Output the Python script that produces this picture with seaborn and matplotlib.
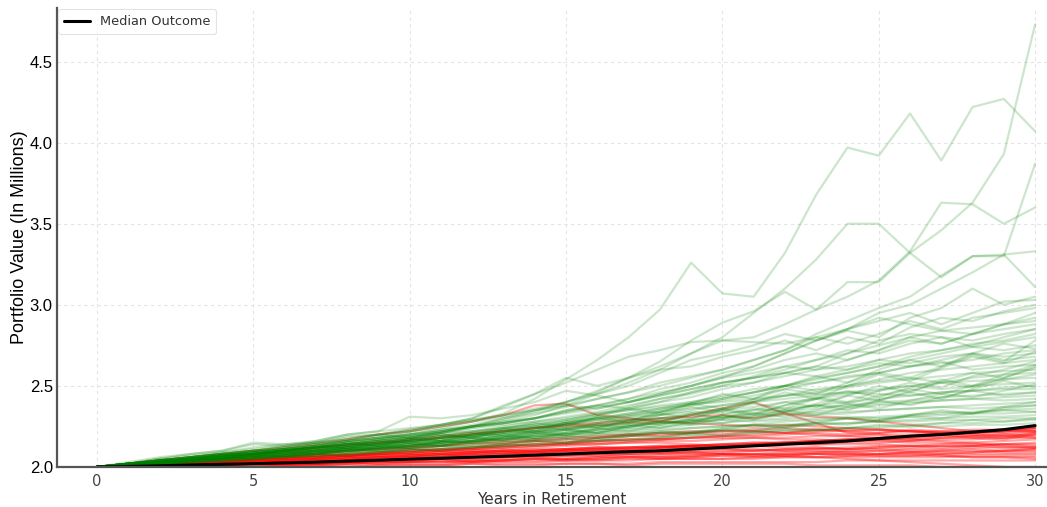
import numpy as np
import pandas as pd
import matplotlib
matplotlib.use("Agg")
import matplotlib.pyplot as plt
import seaborn as sns

years = list(range(31))

median_outcome = [2.00,2.003,2.007,2.012,2.016,2.02,2.025,2.03,2.036,2.042,2.048,2.054,2.06,2.066,2.073,
                  2.08,2.087,2.094,2.10,2.11,2.12,2.13,2.14,2.15,2.16,2.175,2.19,2.20,2.215,2.23,2.255]

green_paths = [
    [2.00,2.02,2.03,2.05,2.07,2.09,2.11,2.13,2.16,2.18,2.21,2.24,2.28,2.33,2.42,2.54,2.66,2.80,2.97,3.26,3.07,3.05,3.32,3.68,3.97,3.92,4.18,3.89,4.22,4.27,4.07],
    [2.00,2.01,2.03,2.05,2.06,2.08,2.10,2.12,2.14,2.16,2.18,2.21,2.25,2.29,2.34,2.40,2.46,2.55,2.65,2.78,2.89,2.96,3.08,2.97,3.14,3.14,3.32,3.46,3.63,3.93,4.73],
    [2.00,2.02,2.04,2.06,2.08,2.10,2.11,2.13,2.16,2.19,2.22,2.26,2.30,2.37,2.45,2.52,2.60,2.68,2.72,2.77,2.78,2.77,2.76,2.80,2.85,2.95,3.00,3.10,3.20,3.31,3.33],
    [2.00,2.01,2.03,2.05,2.06,2.08,2.10,2.12,2.14,2.16,2.18,2.21,2.25,2.30,2.35,2.40,2.47,2.55,2.62,2.70,2.80,2.95,3.10,3.28,3.50,3.50,3.32,3.17,3.30,3.30,3.87],
    [2.00,2.02,2.03,2.05,2.07,2.09,2.11,2.13,2.15,2.17,2.20,2.22,2.25,2.28,2.32,2.38,2.45,2.52,2.60,2.70,2.78,2.80,2.88,2.97,3.05,3.15,3.33,3.63,3.62,3.50,3.60],
    [2.00,2.02,2.04,2.06,2.08,2.09,2.11,2.14,2.16,2.18,2.20,2.23,2.26,2.30,2.33,2.37,2.42,2.46,2.50,2.55,2.60,2.66,2.72,2.82,2.90,2.98,3.05,3.18,3.30,3.31,3.11],
    [2.00,2.01,2.03,2.04,2.06,2.08,2.10,2.12,2.14,2.17,2.19,2.21,2.24,2.27,2.30,2.35,2.38,2.42,2.48,2.52,2.58,2.62,2.70,2.78,2.84,2.80,2.92,2.98,3.10,3.00,3.05],
    [2.00,2.02,2.04,2.06,2.08,2.10,2.13,2.15,2.18,2.20,2.23,2.26,2.29,2.32,2.36,2.40,2.45,2.50,2.58,2.66,2.70,2.75,2.82,2.78,2.85,2.90,2.95,2.88,2.95,3.02,3.03],
    [2.00,2.02,2.05,2.08,2.10,2.14,2.13,2.16,2.20,2.22,2.31,2.30,2.32,2.36,2.40,2.47,2.44,2.40,2.45,2.50,2.56,2.60,2.66,2.70,2.66,2.72,2.80,2.76,2.82,2.88,2.95],
    [2.00,2.03,2.06,2.08,2.10,2.15,2.14,2.15,2.19,2.20,2.18,2.22,2.25,2.27,2.30,2.35,2.38,2.36,2.40,2.46,2.52,2.55,2.58,2.62,2.60,2.66,2.70,2.72,2.75,2.80,2.85],
    [2.00,2.02,2.04,2.06,2.09,2.11,2.13,2.15,2.17,2.20,2.23,2.26,2.30,2.38,2.45,2.55,2.50,2.55,2.60,2.62,2.68,2.72,2.78,2.72,2.80,2.76,2.86,2.92,2.90,2.96,3.00],
    [2.00,2.02,2.03,2.05,2.07,2.08,2.10,2.12,2.14,2.15,2.17,2.19,2.22,2.24,2.27,2.29,2.33,2.36,2.40,2.43,2.48,2.52,2.58,2.62,2.70,2.75,2.80,2.84,2.82,2.88,2.92],
    [2.00,2.01,2.03,2.04,2.06,2.07,2.09,2.11,2.12,2.14,2.16,2.18,2.20,2.23,2.25,2.28,2.32,2.37,2.42,2.45,2.50,2.56,2.62,2.60,2.66,2.72,2.78,2.76,2.82,2.85,2.88],
    [2.00,2.02,2.04,2.05,2.07,2.09,2.11,2.13,2.16,2.18,2.20,2.23,2.25,2.28,2.30,2.34,2.37,2.40,2.44,2.48,2.52,2.55,2.60,2.66,2.72,2.70,2.76,2.80,2.78,2.82,2.85],
    [2.00,2.01,2.02,2.04,2.05,2.07,2.08,2.10,2.11,2.13,2.15,2.17,2.19,2.21,2.24,2.26,2.29,2.32,2.35,2.39,2.42,2.46,2.50,2.55,2.58,2.62,2.66,2.70,2.74,2.77,2.80],
    [2.00,2.02,2.04,2.06,2.08,2.10,2.12,2.14,2.16,2.18,2.20,2.22,2.25,2.27,2.30,2.33,2.36,2.40,2.45,2.50,2.55,2.58,2.62,2.66,2.70,2.78,2.82,2.80,2.74,2.72,2.75],
    [2.00,2.01,2.03,2.04,2.06,2.07,2.09,2.10,2.12,2.14,2.16,2.18,2.19,2.21,2.24,2.27,2.30,2.33,2.36,2.38,2.41,2.44,2.48,2.52,2.56,2.58,2.62,2.64,2.66,2.70,2.72],
    [2.00,2.02,2.03,2.05,2.07,2.09,2.11,2.12,2.14,2.16,2.18,2.21,2.24,2.26,2.28,2.31,2.34,2.38,2.42,2.46,2.50,2.52,2.56,2.60,2.62,2.66,2.64,2.68,2.70,2.68,2.70],
    [2.00,2.01,2.02,2.03,2.05,2.06,2.07,2.09,2.10,2.12,2.13,2.15,2.17,2.19,2.21,2.23,2.25,2.28,2.30,2.33,2.36,2.40,2.44,2.48,2.50,2.54,2.58,2.60,2.62,2.64,2.66],
    [2.00,2.02,2.04,2.05,2.07,2.08,2.10,2.12,2.13,2.15,2.17,2.19,2.21,2.24,2.26,2.29,2.32,2.35,2.38,2.40,2.43,2.46,2.50,2.52,2.55,2.58,2.62,2.65,2.60,2.62,2.63],
    [2.00,2.01,2.03,2.04,2.06,2.07,2.08,2.10,2.12,2.13,2.15,2.16,2.18,2.20,2.22,2.24,2.27,2.29,2.32,2.35,2.38,2.41,2.44,2.46,2.49,2.52,2.54,2.56,2.58,2.59,2.60],
    [2.00,2.02,2.03,2.05,2.06,2.08,2.10,2.11,2.13,2.14,2.16,2.18,2.20,2.22,2.25,2.27,2.30,2.33,2.36,2.40,2.44,2.48,2.50,2.47,2.50,2.53,2.55,2.52,2.55,2.57,2.58],
    [2.00,2.01,2.02,2.04,2.05,2.06,2.08,2.09,2.11,2.12,2.14,2.15,2.17,2.19,2.21,2.23,2.25,2.27,2.30,2.32,2.35,2.37,2.40,2.42,2.45,2.47,2.50,2.52,2.53,2.54,2.55],
    [2.00,2.02,2.04,2.06,2.08,2.10,2.11,2.13,2.15,2.17,2.19,2.21,2.22,2.24,2.26,2.28,2.30,2.32,2.34,2.36,2.38,2.40,2.42,2.44,2.46,2.48,2.50,2.48,2.50,2.51,2.52],
    [2.00,2.01,2.02,2.03,2.04,2.06,2.07,2.08,2.10,2.11,2.13,2.14,2.16,2.18,2.19,2.21,2.23,2.25,2.27,2.29,2.31,2.33,2.35,2.38,2.40,2.42,2.44,2.46,2.47,2.49,2.50],
    [2.00,2.02,2.03,2.05,2.07,2.08,2.10,2.12,2.14,2.16,2.18,2.20,2.22,2.25,2.28,2.30,2.33,2.35,2.37,2.39,2.40,2.42,2.44,2.45,2.46,2.45,2.44,2.46,2.47,2.48,2.48],
    [2.00,2.01,2.03,2.04,2.05,2.07,2.08,2.09,2.11,2.12,2.13,2.15,2.16,2.18,2.20,2.21,2.23,2.25,2.27,2.28,2.30,2.32,2.34,2.36,2.38,2.40,2.41,2.43,2.44,2.45,2.46],
    [2.00,2.01,2.02,2.03,2.05,2.06,2.07,2.09,2.10,2.11,2.13,2.14,2.16,2.17,2.19,2.20,2.22,2.24,2.25,2.27,2.29,2.31,2.33,2.34,2.36,2.38,2.39,2.41,2.42,2.43,2.44],
    [2.00,2.02,2.04,2.05,2.06,2.08,2.09,2.11,2.13,2.14,2.16,2.18,2.20,2.22,2.24,2.27,2.29,2.31,2.32,2.34,2.33,2.35,2.36,2.38,2.37,2.39,2.40,2.41,2.42,2.41,2.42],
    [2.00,2.01,2.02,2.04,2.05,2.06,2.07,2.08,2.10,2.11,2.12,2.14,2.15,2.17,2.18,2.20,2.21,2.23,2.24,2.26,2.27,2.29,2.30,2.32,2.33,2.35,2.36,2.37,2.38,2.39,2.40],
    [2.00,2.01,2.03,2.04,2.06,2.07,2.09,2.10,2.12,2.13,2.15,2.16,2.18,2.20,2.22,2.24,2.26,2.28,2.30,2.29,2.31,2.30,2.32,2.33,2.34,2.35,2.36,2.37,2.36,2.37,2.38],
    [2.00,2.01,2.02,2.03,2.04,2.05,2.07,2.08,2.09,2.10,2.12,2.13,2.14,2.16,2.17,2.18,2.20,2.21,2.22,2.24,2.25,2.26,2.28,2.29,2.30,2.31,2.32,2.33,2.34,2.35,2.36],
    [2.00,2.01,2.03,2.05,2.07,2.08,2.10,2.12,2.13,2.15,2.16,2.18,2.19,2.21,2.22,2.24,2.25,2.26,2.27,2.28,2.29,2.28,2.29,2.30,2.31,2.30,2.31,2.32,2.33,2.33,2.34],
    [2.00,2.01,2.02,2.03,2.04,2.05,2.06,2.07,2.09,2.10,2.11,2.12,2.13,2.15,2.16,2.17,2.18,2.19,2.21,2.22,2.23,2.24,2.25,2.26,2.27,2.28,2.29,2.30,2.31,2.31,2.32],
    [2.00,2.01,2.02,2.04,2.05,2.07,2.08,2.09,2.11,2.12,2.13,2.15,2.16,2.17,2.19,2.20,2.21,2.22,2.23,2.24,2.25,2.26,2.26,2.27,2.27,2.28,2.28,2.29,2.29,2.30,2.30],
    [2.00,2.01,2.02,2.03,2.04,2.05,2.06,2.07,2.08,2.09,2.10,2.11,2.12,2.13,2.14,2.15,2.16,2.17,2.18,2.19,2.20,2.21,2.22,2.23,2.24,2.25,2.26,2.27,2.27,2.28,2.29],
    [2.00,2.01,2.03,2.04,2.06,2.07,2.08,2.10,2.11,2.12,2.14,2.15,2.16,2.17,2.18,2.19,2.20,2.20,2.21,2.21,2.22,2.22,2.23,2.23,2.24,2.24,2.25,2.25,2.26,2.26,2.27],
    [2.00,2.02,2.04,2.06,2.08,2.10,2.12,2.15,2.17,2.20,2.22,2.25,2.28,2.31,2.35,2.38,2.42,2.46,2.52,2.56,2.60,2.66,2.72,2.80,2.76,2.82,2.90,2.85,2.92,2.95,2.98],
    [2.00,2.01,2.03,2.05,2.07,2.09,2.10,2.12,2.15,2.17,2.19,2.22,2.25,2.27,2.30,2.34,2.38,2.42,2.46,2.50,2.55,2.62,2.70,2.78,2.85,2.92,2.88,2.84,2.86,2.88,2.90],
    [2.00,2.02,2.05,2.07,2.09,2.12,2.14,2.16,2.20,2.22,2.24,2.26,2.29,2.32,2.35,2.38,2.36,2.40,2.44,2.48,2.52,2.55,2.58,2.56,2.60,2.64,2.62,2.66,2.70,2.66,2.68],
    [2.00,2.01,2.02,2.04,2.05,2.07,2.09,2.10,2.12,2.14,2.15,2.17,2.19,2.21,2.23,2.26,2.28,2.31,2.34,2.38,2.42,2.46,2.50,2.54,2.58,2.62,2.68,2.72,2.76,2.78,2.82],
    [2.00,2.02,2.01,2.04,2.06,2.05,2.08,2.10,2.09,2.12,2.15,2.13,2.16,2.20,2.18,2.22,2.26,2.24,2.28,2.33,2.30,2.35,2.40,2.37,2.44,2.50,2.46,2.53,2.58,2.55,2.62],
    [2.00,2.01,2.03,2.02,2.05,2.07,2.06,2.09,2.11,2.10,2.13,2.16,2.15,2.18,2.22,2.20,2.24,2.28,2.26,2.30,2.35,2.32,2.38,2.43,2.40,2.47,2.52,2.49,2.56,2.60,2.65],
    [2.00,2.02,2.04,2.03,2.05,2.08,2.10,2.09,2.12,2.14,2.13,2.16,2.18,2.17,2.20,2.23,2.21,2.25,2.28,2.26,2.30,2.33,2.31,2.35,2.39,2.36,2.41,2.45,2.43,2.47,2.51],
    [2.00,2.01,2.02,2.04,2.03,2.05,2.07,2.06,2.08,2.10,2.09,2.11,2.13,2.12,2.15,2.17,2.16,2.19,2.21,2.20,2.23,2.26,2.24,2.27,2.30,2.28,2.32,2.35,2.33,2.37,2.40],
    [2.00,2.02,2.03,2.05,2.07,2.09,2.08,2.11,2.14,2.13,2.17,2.20,2.18,2.23,2.27,2.25,2.31,2.36,2.33,2.39,2.45,2.42,2.50,2.56,2.52,2.60,2.66,2.62,2.70,2.76,2.73],
    [2.00,2.01,2.02,2.03,2.05,2.04,2.06,2.08,2.07,2.09,2.11,2.10,2.12,2.14,2.13,2.15,2.17,2.16,2.18,2.20,2.19,2.21,2.23,2.22,2.24,2.26,2.25,2.27,2.29,2.28,2.30],
    [2.00,2.02,2.04,2.06,2.05,2.08,2.11,2.10,2.13,2.16,2.15,2.18,2.21,2.19,2.23,2.27,2.24,2.29,2.33,2.30,2.35,2.39,2.36,2.42,2.47,2.43,2.49,2.54,2.50,2.57,2.63],
    [2.00,2.01,2.03,2.04,2.06,2.08,2.07,2.10,2.12,2.11,2.14,2.16,2.15,2.18,2.21,2.19,2.23,2.26,2.24,2.28,2.32,2.29,2.34,2.38,2.35,2.41,2.46,2.42,2.48,2.53,2.49],
    [2.00,2.02,2.03,2.05,2.06,2.08,2.10,2.12,2.11,2.14,2.17,2.16,2.20,2.23,2.21,2.26,2.30,2.27,2.32,2.37,2.34,2.40,2.46,2.42,2.50,2.57,2.53,2.61,2.68,2.64,2.71],
    [2.00,2.01,2.02,2.04,2.05,2.07,2.06,2.08,2.10,2.09,2.11,2.13,2.12,2.14,2.16,2.15,2.17,2.19,2.18,2.21,2.23,2.22,2.25,2.27,2.26,2.29,2.31,2.30,2.33,2.35,2.34],
    [2.00,2.02,2.05,2.04,2.07,2.10,2.09,2.12,2.15,2.13,2.17,2.20,2.18,2.22,2.25,2.23,2.27,2.30,2.28,2.32,2.36,2.33,2.38,2.42,2.39,2.44,2.48,2.45,2.50,2.54,2.57],
    [2.00,2.01,2.03,2.05,2.04,2.06,2.09,2.08,2.11,2.13,2.12,2.15,2.18,2.16,2.20,2.23,2.21,2.25,2.29,2.27,2.32,2.36,2.34,2.39,2.44,2.41,2.47,2.52,2.49,2.55,2.61],
    [2.00,2.02,2.03,2.04,2.06,2.07,2.09,2.08,2.10,2.12,2.11,2.13,2.15,2.14,2.17,2.19,2.18,2.20,2.22,2.21,2.24,2.26,2.25,2.28,2.30,2.29,2.32,2.34,2.33,2.36,2.38],
    [2.00,2.01,2.02,2.04,2.06,2.05,2.07,2.10,2.09,2.12,2.14,2.13,2.16,2.19,2.17,2.21,2.24,2.22,2.26,2.29,2.27,2.31,2.35,2.32,2.37,2.41,2.38,2.43,2.47,2.44,2.46],
    [2.00,2.02,2.04,2.06,2.08,2.07,2.10,2.13,2.12,2.15,2.18,2.16,2.20,2.24,2.22,2.27,2.31,2.28,2.34,2.39,2.36,2.42,2.48,2.45,2.52,2.58,2.55,2.62,2.69,2.65,2.78],
]

red_paths = [
    [2.00,2.02,2.04,2.06,2.08,2.10,2.12,2.14,2.17,2.20,2.22,2.25,2.28,2.32,2.38,2.39,2.32,2.30,2.28,2.32,2.36,2.40,2.33,2.27,2.21,2.20,2.18,2.20,2.18,2.17,2.20],
    [2.00,2.01,2.03,2.04,2.06,2.08,2.09,2.11,2.13,2.15,2.16,2.18,2.20,2.22,2.24,2.26,2.27,2.29,2.30,2.31,2.32,2.30,2.33,2.31,2.30,2.28,2.26,2.24,2.22,2.21,2.22],
    [2.00,2.01,2.02,2.03,2.05,2.06,2.07,2.08,2.10,2.11,2.12,2.13,2.15,2.16,2.17,2.18,2.19,2.20,2.21,2.22,2.22,2.23,2.24,2.23,2.22,2.23,2.22,2.21,2.20,2.20,2.19],
    [2.00,2.00,2.01,2.02,2.02,2.03,2.04,2.04,2.05,2.06,2.06,2.07,2.08,2.09,2.09,2.10,2.11,2.12,2.12,2.13,2.14,2.15,2.15,2.16,2.17,2.18,2.19,2.20,2.21,2.22,2.23],
    [2.00,2.01,2.01,2.02,2.03,2.04,2.04,2.05,2.06,2.07,2.07,2.08,2.09,2.10,2.10,2.11,2.12,2.12,2.13,2.13,2.14,2.15,2.15,2.16,2.16,2.17,2.17,2.18,2.18,2.19,2.20],
    [2.00,2.00,2.01,2.01,2.02,2.02,2.03,2.03,2.04,2.04,2.05,2.05,2.06,2.06,2.07,2.07,2.08,2.08,2.09,2.09,2.10,2.10,2.11,2.11,2.12,2.13,2.13,2.14,2.15,2.16,2.17],
    [2.00,2.01,2.02,2.03,2.04,2.05,2.06,2.07,2.08,2.09,2.10,2.11,2.12,2.13,2.14,2.15,2.16,2.17,2.17,2.18,2.18,2.18,2.17,2.17,2.16,2.16,2.15,2.15,2.14,2.14,2.14],
    [2.00,2.00,2.00,2.01,2.01,2.01,2.02,2.02,2.02,2.03,2.03,2.03,2.04,2.04,2.05,2.05,2.06,2.06,2.07,2.07,2.08,2.08,2.09,2.09,2.10,2.10,2.11,2.11,2.12,2.12,2.12],
    [2.00,2.01,2.02,2.03,2.03,2.04,2.05,2.06,2.07,2.08,2.09,2.10,2.11,2.12,2.13,2.14,2.14,2.15,2.15,2.14,2.13,2.13,2.12,2.12,2.11,2.11,2.10,2.10,2.10,2.09,2.09],
    [2.00,2.00,2.00,2.00,2.01,2.01,2.01,2.01,2.02,2.02,2.02,2.02,2.03,2.03,2.03,2.04,2.04,2.04,2.05,2.05,2.05,2.06,2.06,2.06,2.07,2.07,2.07,2.08,2.08,2.08,2.08],
    [2.00,2.01,2.02,2.02,2.03,2.04,2.05,2.05,2.06,2.07,2.08,2.08,2.09,2.10,2.10,2.11,2.11,2.12,2.12,2.12,2.11,2.11,2.10,2.10,2.09,2.08,2.08,2.07,2.06,2.06,2.05],
    [2.00,2.00,2.00,2.00,2.00,2.00,2.01,2.01,2.01,2.01,2.01,2.01,2.02,2.02,2.02,2.02,2.02,2.02,2.03,2.03,2.03,2.03,2.03,2.03,2.04,2.04,2.04,2.04,2.04,2.04,2.04],
    [2.00,2.00,1.99,1.99,1.99,1.99,1.99,1.98,1.98,1.98,1.98,1.98,1.97,1.97,1.97,1.97,1.96,1.96,1.96,1.96,1.95,1.95,1.95,1.95,1.94,1.94,1.94,1.93,1.93,1.93,1.92],
    [2.00,2.01,2.02,2.03,2.04,2.05,2.06,2.07,2.07,2.08,2.08,2.09,2.09,2.10,2.10,2.10,2.10,2.10,2.09,2.09,2.08,2.08,2.07,2.06,2.05,2.04,2.03,2.02,2.01,2.00,1.99],
    [2.00,2.00,2.01,2.01,2.02,2.02,2.03,2.03,2.03,2.04,2.04,2.05,2.05,2.06,2.06,2.07,2.07,2.08,2.08,2.09,2.09,2.10,2.10,2.11,2.11,2.12,2.12,2.13,2.13,2.14,2.15],
    [2.00,2.01,2.02,2.04,2.05,2.06,2.07,2.08,2.10,2.11,2.12,2.13,2.14,2.15,2.16,2.17,2.18,2.19,2.20,2.21,2.22,2.22,2.21,2.20,2.19,2.18,2.17,2.16,2.15,2.13,2.12],
    [2.00,2.00,2.01,2.01,2.01,2.02,2.02,2.02,2.03,2.03,2.03,2.04,2.04,2.04,2.05,2.05,2.05,2.06,2.06,2.06,2.07,2.07,2.07,2.08,2.08,2.08,2.09,2.09,2.09,2.10,2.10],
    [2.00,2.01,2.01,2.02,2.02,2.03,2.04,2.04,2.05,2.06,2.06,2.07,2.08,2.08,2.09,2.10,2.10,2.11,2.12,2.13,2.13,2.14,2.15,2.16,2.17,2.18,2.19,2.20,2.21,2.22,2.24],
    [2.00,2.00,2.00,1.99,1.99,1.99,1.98,1.98,1.98,1.97,1.97,1.97,1.96,1.96,1.96,1.95,1.95,1.95,1.94,1.94,1.94,1.93,1.93,1.93,1.92,1.92,1.92,1.91,1.91,1.91,1.90],
    [2.00,2.01,2.02,2.03,2.04,2.05,2.06,2.06,2.07,2.08,2.09,2.10,2.10,2.11,2.12,2.13,2.14,2.15,2.16,2.16,2.17,2.18,2.18,2.19,2.19,2.20,2.20,2.21,2.21,2.22,2.22],
    [2.00,2.00,2.01,2.02,2.02,2.03,2.03,2.04,2.05,2.05,2.06,2.07,2.07,2.08,2.09,2.09,2.10,2.10,2.11,2.12,2.12,2.13,2.14,2.14,2.15,2.15,2.16,2.17,2.17,2.18,2.18],
    [2.00,2.01,2.02,2.02,2.03,2.04,2.05,2.06,2.07,2.07,2.08,2.09,2.10,2.10,2.11,2.11,2.12,2.12,2.13,2.13,2.13,2.14,2.14,2.14,2.14,2.14,2.13,2.13,2.13,2.12,2.12],
    [2.00,2.00,2.01,2.01,2.01,2.02,2.02,2.02,2.02,2.03,2.03,2.03,2.03,2.04,2.04,2.04,2.04,2.05,2.05,2.05,2.05,2.05,2.06,2.06,2.06,2.06,2.06,2.06,2.07,2.07,2.07],
    [2.00,2.01,2.02,2.03,2.04,2.04,2.05,2.06,2.07,2.08,2.09,2.10,2.11,2.12,2.13,2.14,2.15,2.16,2.17,2.18,2.19,2.20,2.21,2.22,2.23,2.23,2.22,2.22,2.23,2.23,2.24],
    [2.00,2.00,2.01,2.01,2.02,2.02,2.03,2.03,2.04,2.04,2.05,2.05,2.06,2.06,2.07,2.07,2.07,2.08,2.08,2.08,2.08,2.08,2.08,2.08,2.08,2.07,2.07,2.07,2.06,2.06,2.06],
    [2.00,2.01,2.00,2.02,2.03,2.02,2.04,2.05,2.04,2.06,2.07,2.06,2.08,2.09,2.08,2.10,2.11,2.10,2.12,2.13,2.12,2.14,2.15,2.14,2.16,2.17,2.16,2.18,2.19,2.18,2.21],
    [2.00,2.01,2.02,2.01,2.03,2.04,2.03,2.05,2.06,2.05,2.07,2.08,2.07,2.08,2.09,2.08,2.09,2.10,2.09,2.10,2.11,2.10,2.11,2.12,2.11,2.12,2.13,2.12,2.13,2.14,2.13],
    [2.00,2.00,2.01,2.00,2.01,2.02,2.01,2.02,2.03,2.02,2.03,2.04,2.03,2.04,2.05,2.04,2.05,2.06,2.05,2.06,2.07,2.06,2.07,2.08,2.07,2.08,2.09,2.08,2.09,2.10,2.11],
    [2.00,2.01,2.02,2.03,2.04,2.05,2.05,2.07,2.08,2.08,2.10,2.11,2.11,2.13,2.14,2.14,2.16,2.17,2.17,2.18,2.19,2.19,2.20,2.21,2.20,2.21,2.22,2.21,2.22,2.23,2.22],
    [2.00,2.00,1.99,2.00,1.99,1.99,2.00,1.99,1.99,1.99,1.98,1.99,1.98,1.98,1.98,1.97,1.98,1.97,1.97,1.97,1.96,1.97,1.96,1.96,1.96,1.95,1.96,1.95,1.95,1.95,1.94],
    [2.00,2.01,2.02,2.04,2.03,2.05,2.06,2.08,2.07,2.09,2.11,2.10,2.12,2.14,2.16,2.15,2.18,2.20,2.19,2.21,2.20,2.22,2.21,2.23,2.22,2.21,2.23,2.22,2.21,2.23,2.24],
    [2.00,2.00,2.01,2.02,2.01,2.02,2.03,2.02,2.03,2.04,2.04,2.05,2.04,2.05,2.06,2.05,2.06,2.07,2.06,2.07,2.08,2.07,2.08,2.09,2.09,2.10,2.09,2.10,2.11,2.10,2.11],
    [2.00,2.01,2.01,2.02,2.03,2.04,2.04,2.05,2.06,2.06,2.07,2.08,2.09,2.09,2.10,2.11,2.12,2.11,2.12,2.13,2.14,2.14,2.15,2.16,2.17,2.17,2.18,2.19,2.19,2.20,2.21],
    [2.00,2.01,2.03,2.05,2.07,2.08,2.10,2.12,2.14,2.15,2.17,2.19,2.21,2.22,2.24,2.25,2.26,2.27,2.28,2.27,2.26,2.25,2.26,2.25,2.24,2.23,2.22,2.21,2.20,2.19,2.18],
    [2.00,2.00,2.00,2.01,2.00,2.00,2.01,2.01,2.00,2.01,2.01,2.01,2.02,2.01,2.01,2.02,2.02,2.01,2.02,2.02,2.02,2.02,2.02,2.01,2.01,2.01,2.01,2.00,2.00,2.00,2.00],
]

x_ticks = [0, 5, 10, 15, 20, 25, 30]
y_ticks = [2.0, 2.5, 3.0, 3.5, 4.0, 4.5]

# Build long-form table
rows = []
for i, p in enumerate(red_paths):
    for y, v in zip(years, p):
        rows.append(("r%d" % i, "below", y, v))
for i, p in enumerate(green_paths):
    for y, v in zip(years, p):
        rows.append(("g%d" % i, "above", y, v))
df = pd.DataFrame(rows, columns=["path", "outcome", "year", "value"])
med = pd.DataFrame({"year": years, "value": median_outcome})

sns.set_style("whitegrid")
plt.rcParams["font.family"] = ["DejaVu Sans"]

fig = plt.figure(figsize=(10.47, 5.07), dpi=100)
ax = fig.add_axes([0.0544, 0.079, 0.9456, 0.905])

sns.lineplot(data=df[df.outcome == "below"], x="year", y="value", units="path",
             estimator=None, color="red", alpha=0.35, linewidth=1.6, ax=ax, legend=False)
sns.lineplot(data=df[df.outcome == "above"], x="year", y="value", units="path",
             estimator=None, color="green", alpha=0.2, linewidth=1.6, ax=ax, legend=False)
sns.lineplot(data=med, x="year", y="value", color="black", linewidth=2.2, ax=ax,
             label="Median Outcome")

ax.set_xlim(-1.28, 30.38)
ax.set_ylim(2.0, 4.83)
ax.set_xticks(x_ticks)
ax.set_yticks(y_ticks)
ax.set_yticklabels([f"{t:.1f}" for t in y_ticks])

ax.grid(True, linestyle=(0, (3, 3)), color="#e4e4e4", linewidth=0.8)
for s in ["top", "right"]:
    ax.spines[s].set_visible(False)
for s in ["left", "bottom"]:
    ax.spines[s].set_visible(True)
    ax.spines[s].set_color("#555555")
    ax.spines[s].set_linewidth(1.6)

ax.tick_params(axis="y", labelsize=12, labelcolor="black", length=0, pad=3)
ax.tick_params(axis="x", labelsize=10.5, labelcolor="#444444", direction="in",
               length=4, color="#555555", pad=5)
for lab in ax.get_yticklabels():
    lab.set_fontfamily(["Liberation Sans", "DejaVu Sans"])

ax.set_xlabel("Years in Retirement", fontsize=11, color="#333333", labelpad=2)
ax.set_ylabel("Portfolio Value (In Millions)", fontsize=13, color="black", labelpad=1,
              fontfamily=["Liberation Sans", "DejaVu Sans"])

leg = ax.legend(loc="upper left", fontsize=9.3, frameon=True, borderaxespad=0.1,
                handlelength=2.0, borderpad=0.45)
leg.get_frame().set_edgecolor("#dddddd")
leg.get_frame().set_linewidth(0.8)
for t in leg.get_texts():
    t.set_color("#333333")

fig.savefig("out.png", dpi=100)
